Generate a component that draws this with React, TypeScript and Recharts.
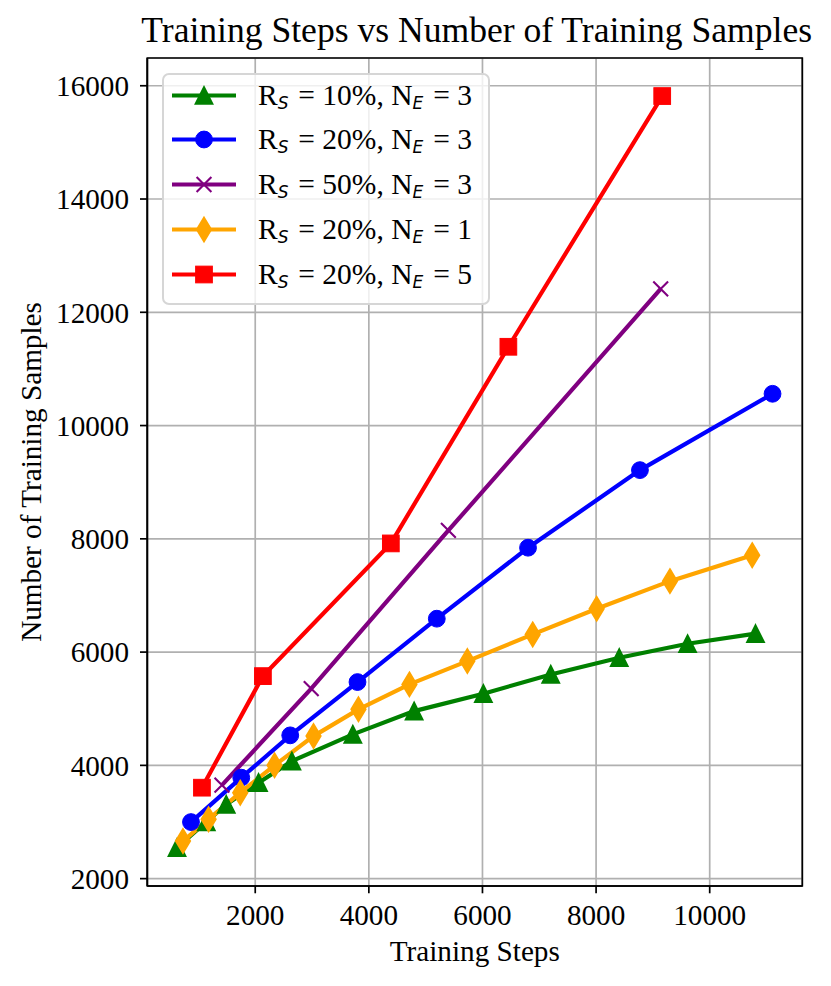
import React from "react";
import {
  LineChart,
  Line,
  XAxis,
  YAxis,
  CartesianGrid,
  ReferenceArea,
} from "recharts";

// values
const green10N3Steps = [623, 1138, 1490, 2058, 2645, 3718, 4797, 6016, 7202, 8408, 9611, 10807];
const green10N3Samples = [2547, 3002, 3310, 3695, 4075, 4547, 4958, 5266, 5606, 5901, 6148, 6325];

const blue20N3Steps = [869, 1754, 2616, 3800, 5196, 6802, 8772, 11106];
const blue20N3Samples = [2999, 3783, 4530, 5471, 6590, 7843, 9213, 10561];

const purple50N3Steps = [1414, 2985, 5400, 9137];
const purple50N3Samples = [3652, 5354, 8148, 12415];

const orange20N1Steps = [728, 1179, 1736, 2340, 3026, 3817, 4714, 5734, 6884, 8010, 9300, 10748];
const orange20N1Samples = [2664, 3047, 3518, 4000, 4517, 4989, 5430, 5841, 6312, 6766, 7253, 7712];

const red20N5Steps = [1062, 2135, 4387, 6456, 9164];
const red20N5Samples = [3606, 5576, 7919, 11391, 15818];

const rsValues = ["10%", "20%", "50%", "20%", "20%"];
const neValues = ["3", "3", "3", "1", "5"];

const xTicks = [2000, 4000, 6000, 8000, 10000];
const yTicks = [2000, 4000, 6000, 8000, 10000, 12000, 14000, 16000];

const title = "Training Steps vs Number of Training Samples";
const xLabel = "Training Steps";
const yLabel = "Number of Training Samples";

const FONT = "'Liberation Serif', 'Times New Roman', serif";
const TICK_FONT = 29.2;

type Shape = "triangle" | "circle" | "x" | "diamond" | "square";

const zip = (xs: number[], ys: number[]) => xs.map((x, i) => ({ x, y: ys[i] }));

const series = [
  { data: zip(green10N3Steps, green10N3Samples), color: "#008000", shape: "triangle" as Shape },
  { data: zip(blue20N3Steps, blue20N3Samples), color: "#0000ff", shape: "circle" as Shape },
  { data: zip(purple50N3Steps, purple50N3Samples), color: "#800080", shape: "x" as Shape },
  { data: zip(orange20N1Steps, orange20N1Samples), color: "#ffa500", shape: "diamond" as Shape },
  { data: zip(red20N5Steps, red20N5Samples), color: "#ff0000", shape: "square" as Shape },
];

function marker(shape: Shape, cx: number, cy: number, color: string, key: string) {
  if (cx == null || cy == null) return <g key={key} />;
  switch (shape) {
    case "triangle": {
      const h = 8.35;
      return (
        <path
          key={key}
          d={`M${cx},${cy - h}L${cx + h},${cy + h}L${cx - h},${cy + h}Z`}
          fill={color}
          stroke={color}
          strokeWidth={2}
        />
      );
    }
    case "circle":
      return <circle key={key} cx={cx} cy={cy} r={8.4} fill={color} stroke={color} strokeWidth={1} />;
    case "x": {
      const h = 7.4;
      return (
        <path
          key={key}
          d={`M${cx - h},${cy - h}L${cx + h},${cy + h}M${cx - h},${cy + h}L${cx + h},${cy - h}`}
          stroke={color}
          strokeWidth={2.1}
          fill="none"
        />
      );
    }
    case "diamond": {
      const h = 11.8;
      const w = 7.1;
      return (
        <path
          key={key}
          d={`M${cx},${cy - h}L${cx + w},${cy}L${cx},${cy + h}L${cx - w},${cy}Z`}
          fill={color}
          stroke={color}
          strokeWidth={2}
        />
      );
    }
    case "square":
    default:
      return (
        <rect
          key={key}
          x={cx - 8.35}
          y={cy - 8.35}
          width={16.7}
          height={16.7}
          fill={color}
          stroke={color}
          strokeWidth={1}
        />
      );
  }
}

const subStyle: React.CSSProperties = {
  fontFamily: "'DejaVu Sans', sans-serif",
  fontStyle: "italic",
  fontSize: 17,
  position: "relative",
  top: 4,
  marginRight: 2.5,
};

function LegendBox() {
  return (
    <div
      style={{
        position: "absolute",
        left: 153.7,
        top: 64.7,
        width: 328.3,
        height: 232.3,
        boxSizing: "border-box",
        border: "2px solid #d6d6d6",
        borderRadius: 7,
        background: "rgba(255,255,255,0.8)",
      }}
    >
      {series.map((s, i) => (
        <div
          key={i}
          style={{
            position: "absolute",
            left: 0,
            top: 20.3 + 45 * i - 22.5,
            height: 45,
            width: 320,
          }}
        >
          <svg width={64} height={45} style={{ position: "absolute", left: 8.6, top: 0 }}>
            <line x1={0} y1={22.5} x2={64} y2={22.5} stroke={s.color} strokeWidth={4.2} />
            {marker(s.shape, 32, 22.5, s.color, "m")}
          </svg>
          <div
            style={{
              position: "absolute",
              left: 94.3,
              top: 0,
              height: 45,
              lineHeight: "45px",
              fontFamily: FONT,
              fontSize: 29.5,
              color: "#000",
              whiteSpace: "nowrap",
            }}
          >
            R<span style={subStyle}>S</span> = {rsValues[i]}, N<span style={subStyle}>E</span> ={" "}
            {neValues[i]}
          </div>
        </div>
      ))}
    </div>
  );
}

export default function App() {
  const tickStyle = { fontSize: TICK_FONT, fill: "#000", fontFamily: FONT };
  return (
    <div style={{ position: "relative", width: 815, height: 970, background: "#fff" }}>
      <div
        style={{
          position: "absolute",
          left: 468.7 - 400,
          width: 800,
          top: 5.2,
          textAlign: "center",
          fontFamily: FONT,
          fontSize: 35.6,
          lineHeight: 1,
          whiteSpace: "nowrap",
          color: "#000",
        }}
      >
        {title}
      </div>
      <LineChart width={815} height={970} margin={{ top: 50, right: 20.7, bottom: 12, left: 0 }}>
        <CartesianGrid stroke="#b0b0b0" strokeWidth={1.7} />
        <XAxis
          type="number"
          dataKey="x"
          domain={[100, 11630]}
          ticks={xTicks}
          allowDataOverflow
          height={80}
          tickSize={7.3}
          tickMargin={11}
          stroke="#000"
          strokeWidth={1.7}
          tick={tickStyle}
          tickLine={{ stroke: "#000", strokeWidth: 1.7 }}
          label={{
            content: (p: any) => {
              const vb = p.viewBox || { x: 139.3, y: 878, width: 655 };
              return (
                <text
                  x={vb.x + vb.width / 2}
                  y={vb.y + 74.7}
                  textAnchor="middle"
                  fontFamily={FONT}
                  fontSize={TICK_FONT}
                  fill="#000"
                >
                  {xLabel}
                </text>
              );
            },
          }}
        />
        <YAxis
          type="number"
          dataKey="y"
          domain={[1870, 16490]}
          ticks={yTicks}
          allowDataOverflow
          width={139.3}
          tickSize={7.3}
          tickMargin={11}
          stroke="#000"
          strokeWidth={1.7}
          tick={tickStyle}
          tickLine={{ stroke: "#000", strokeWidth: 1.7 }}
          label={{
            content: (p: any) => {
              const vb = p.viewBox || { x: 0, y: 50, height: 828 };
              const cy = vb.y + vb.height / 2;
              return (
                <text
                  x={32.5}
                  y={cy}
                  transform={`rotate(-90 32.5 ${cy})`}
                  textAnchor="middle"
                  fontFamily={FONT}
                  fontSize={TICK_FONT}
                  fill="#000"
                >
                  {yLabel}
                </text>
              );
            },
          }}
        />
        <ReferenceArea
          x1={100}
          x2={11630}
          y1={1870}
          y2={16490}
          fill="none"
          stroke="#000"
          strokeWidth={1.7}
          ifOverflow="visible"
        />
        {series.map((s, i) => (
          <Line
            key={i}
            data={s.data}
            dataKey="y"
            type="linear"
            stroke={s.color}
            strokeWidth={4.2}
            isAnimationActive={false}
            activeDot={false}
            dot={(p: any) => marker(s.shape, p.cx, p.cy, s.color, `${i}-${p.index}`)}
          />
        ))}
      </LineChart>
      <LegendBox />
    </div>
  );
}
